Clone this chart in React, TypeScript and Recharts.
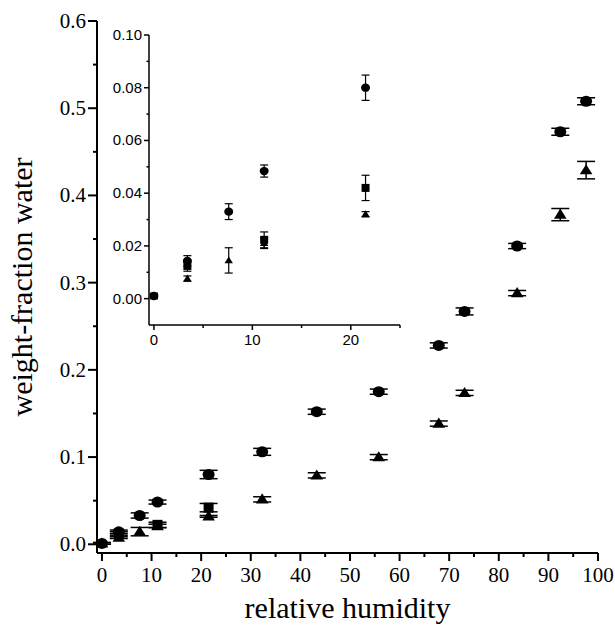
import React from 'react';
import { ScatterChart, Scatter, XAxis, YAxis, ErrorBar } from 'recharts';

// relative humidity (%) at which samples were equilibrated
const rhCircle = [0, 3.4, 7.6, 11.2, 21.5, 32.3, 43.3, 55.8, 67.9, 73.1, 83.7, 92.4, 97.6];
const wCircle = [0.001, 0.0143, 0.033, 0.0484, 0.080, 0.106, 0.152, 0.175, 0.228, 0.267, 0.342, 0.473, 0.508];
const errCircle = [0.001, 0.002, 0.003, 0.0023, 0.0048, 0.004, 0.003, 0.003, 0.003, 0.004, 0.003, 0.004, 0.004];

const rhTriangle = [0, 3.4, 7.6, 11.2, 21.5, 32.3, 43.3, 55.8, 67.9, 73.1, 83.7, 92.4, 97.6];
const wTriangle = [0.001, 0.0076, 0.0145, 0.021, 0.032, 0.0515, 0.079, 0.0999, 0.1384, 0.1736, 0.288, 0.378, 0.429];
const errTriangle = [0.001, 0.001, 0.0048, 0.002, 0.001, 0.003, 0.003, 0.003, 0.003, 0.003, 0.003, 0.007, 0.010];

const rhSquare = [3.4, 11.2, 21.5];
const wSquare = [0.0124, 0.0223, 0.042];
const errSquare = [0.002, 0.003, 0.0048];

const xTicks = [0, 5, 10, 15, 20, 25, 30, 35, 40, 45, 50, 55, 60, 65, 70, 75, 80, 85, 90, 95, 100];
const yTicks = [0, 0.05, 0.1, 0.15, 0.2, 0.25, 0.3, 0.35, 0.4, 0.45, 0.5, 0.55, 0.6];
const insetXTicks = [0, 5, 10, 15, 20, 25];
const insetYTicks = [0, 0.01, 0.02, 0.03, 0.04, 0.05, 0.06, 0.07, 0.08, 0.09, 0.1];

const toRows = (rh: number[], w: number[], err: number[]) =>
  rh.map((x, i) => ({ rh: x, w: w[i], err: err[i] }));

const circles = toRows(rhCircle, wCircle, errCircle);
const triangles = toRows(rhTriangle, wTriangle, errTriangle);
const squares = toRows(rhSquare, wSquare, errSquare);

const insetCircles = circles.filter((d) => d.rh <= 25);
const insetTriangles = triangles.filter((d) => d.rh <= 25);

const SERIF = '"Liberation Serif", "Times New Roman", serif';
const SANS = '"Liberation Sans", Arial, sans-serif';

const isMajor = (v: number, step: number) => Math.abs(v / step - Math.round(v / step)) < 1e-6;

// custom ticks so minor ticks get no label and a shorter line
const MainXTick = (props: any) => {
  const { x, y, payload } = props;
  const major = isMajor(payload.value, 10);
  return (
    <g>
      <line x1={x} y1={y} x2={x} y2={y + (major ? 8 : 4)} stroke="#000" strokeWidth={2} />
      {major && (
        <text x={x} y={y + 29} textAnchor="middle" style={{ fontFamily: SERIF, fontSize: 21 }} fill="#000">
          {payload.value}
        </text>
      )}
    </g>
  );
};

const MainYTick = (props: any) => {
  const { x, y, payload } = props;
  const major = isMajor(payload.value, 0.1);
  return (
    <g>
      <line x1={x} y1={y} x2={x - (major ? 9 : 4)} y2={y} stroke="#000" strokeWidth={2} />
      {major && (
        <text x={x - 11} y={y + 7} textAnchor="end" style={{ fontFamily: SERIF, fontSize: 21 }} fill="#000">
          {payload.value.toFixed(1)}
        </text>
      )}
    </g>
  );
};

const InsetXTick = (props: any) => {
  const { x, y, payload } = props;
  const major = isMajor(payload.value, 10);
  return (
    <g>
      <line x1={x} y1={y} x2={x} y2={y + (major ? 5 : 3)} stroke="#000" strokeWidth={1.5} />
      {major && (
        <text x={x} y={y + 20} textAnchor="middle" style={{ fontFamily: SANS, fontSize: 15 }} fill="#000">
          {payload.value}
        </text>
      )}
    </g>
  );
};

const InsetYTick = (props: any) => {
  const { x, y, payload } = props;
  const major = isMajor(payload.value, 0.02);
  return (
    <g>
      <line x1={x} y1={y} x2={x - (major ? 5 : 2.5)} y2={y} stroke="#000" strokeWidth={1.5} />
      {major && (
        <text x={x - 7} y={y + 5} textAnchor="end" style={{ fontFamily: SANS, fontSize: 15 }} fill="#000">
          {payload.value.toFixed(2)}
        </text>
      )}
    </g>
  );
};

const Dot = (r: number) => (props: any) => (
  <ellipse cx={props.cx} cy={props.cy} rx={r} ry={r * 0.92} fill="#000" />
);
const Tri = (r: number) => (props: any) => {
  const { cx, cy } = props;
  return (
    <polygon
      points={`${cx},${cy - r} ${cx + r * 1.05},${cy + r * 0.7} ${cx - r * 1.05},${cy + r * 0.7}`}
      fill="#000"
    />
  );
};
const Sq = (r: number) => (props: any) => (
  <rect x={props.cx - r} y={props.cy - r} width={r * 2} height={r * 2} fill="#000" />
);

const App = () => {
  return (
    <div style={{ position: 'absolute', left: 0, top: 0, width: 615, height: 628, background: '#fff' }}>
      <div style={{ position: 'absolute', left: 0, top: 0 }}>
        <ScatterChart width={615} height={628} margin={{ top: 21, right: 17, bottom: 25, left: 0 }}>
          <XAxis
            type="number"
            dataKey="rh"
            domain={[-1, 100]}
            ticks={xTicks}
            interval={0}
            height={50}
            tickSize={0}
            tickMargin={0}
            tickLine={false}
            tick={<MainXTick />}
            axisLine={{ stroke: '#000', strokeWidth: 2 }}
            allowDataOverflow
            label={{
              value: 'relative humidity',
              position: 'bottom',
              offset: -6,
              style: { fontFamily: SERIF, fontSize: 30, fill: '#000' },
            }}
          />
          <YAxis
            type="number"
            dataKey="w"
            domain={[-0.01, 0.6]}
            ticks={yTicks}
            interval={0}
            width={97}
            tickSize={0}
            tickMargin={0}
            tickLine={false}
            tick={<MainYTick />}
            axisLine={{ stroke: '#000', strokeWidth: 2 }}
            allowDataOverflow
            label={{
              value: 'weight-fraction water',
              angle: -90,
              position: 'center',
              dx: -27,
              style: { fontFamily: SERIF, fontSize: 30, fill: '#000', textAnchor: 'middle' },
            }}
          />
          <Scatter data={circles} shape={Dot(6)} isAnimationActive={false}>
            <ErrorBar dataKey="err" direction="y" width={9} stroke="#000" strokeWidth={1.5} isAnimationActive={false} />
          </Scatter>
          <Scatter data={triangles} shape={Tri(6)} isAnimationActive={false}>
            <ErrorBar dataKey="err" direction="y" width={9} stroke="#000" strokeWidth={1.5} isAnimationActive={false} />
          </Scatter>
          <Scatter data={squares} shape={Sq(5)} isAnimationActive={false}>
            <ErrorBar dataKey="err" direction="y" width={9} stroke="#000" strokeWidth={1.5} isAnimationActive={false} />
          </Scatter>
        </ScatterChart>
      </div>
      <div style={{ position: 'absolute', left: 90, top: 25 }}>
        <ScatterChart width={320} height={335} margin={{ top: 10, right: 10, bottom: 10, left: 0 }}>
          <XAxis
            type="number"
            dataKey="rh"
            domain={[-0.5, 25]}
            ticks={insetXTicks}
            interval={0}
            height={25}
            tickSize={0}
            tickMargin={0}
            tickLine={false}
            tick={<InsetXTick />}
            axisLine={{ stroke: '#000', strokeWidth: 1.5 }}
            allowDataOverflow
          />
          <YAxis
            type="number"
            dataKey="w"
            domain={[-0.01, 0.1]}
            ticks={insetYTicks}
            interval={0}
            width={59}
            tickSize={0}
            tickMargin={0}
            tickLine={false}
            tick={<InsetYTick />}
            axisLine={{ stroke: '#000', strokeWidth: 1.5 }}
            allowDataOverflow
          />
          <Scatter data={insetCircles} shape={Dot(4.5)} isAnimationActive={false}>
            <ErrorBar dataKey="err" direction="y" width={4} stroke="#000" strokeWidth={1.2} isAnimationActive={false} />
          </Scatter>
          <Scatter data={insetTriangles} shape={Tri(4)} isAnimationActive={false}>
            <ErrorBar dataKey="err" direction="y" width={4} stroke="#000" strokeWidth={1.2} isAnimationActive={false} />
          </Scatter>
          <Scatter data={squares} shape={Sq(4)} isAnimationActive={false}>
            <ErrorBar dataKey="err" direction="y" width={4} stroke="#000" strokeWidth={1.2} isAnimationActive={false} />
          </Scatter>
        </ScatterChart>
      </div>
    </div>
  );
};

export default App;
